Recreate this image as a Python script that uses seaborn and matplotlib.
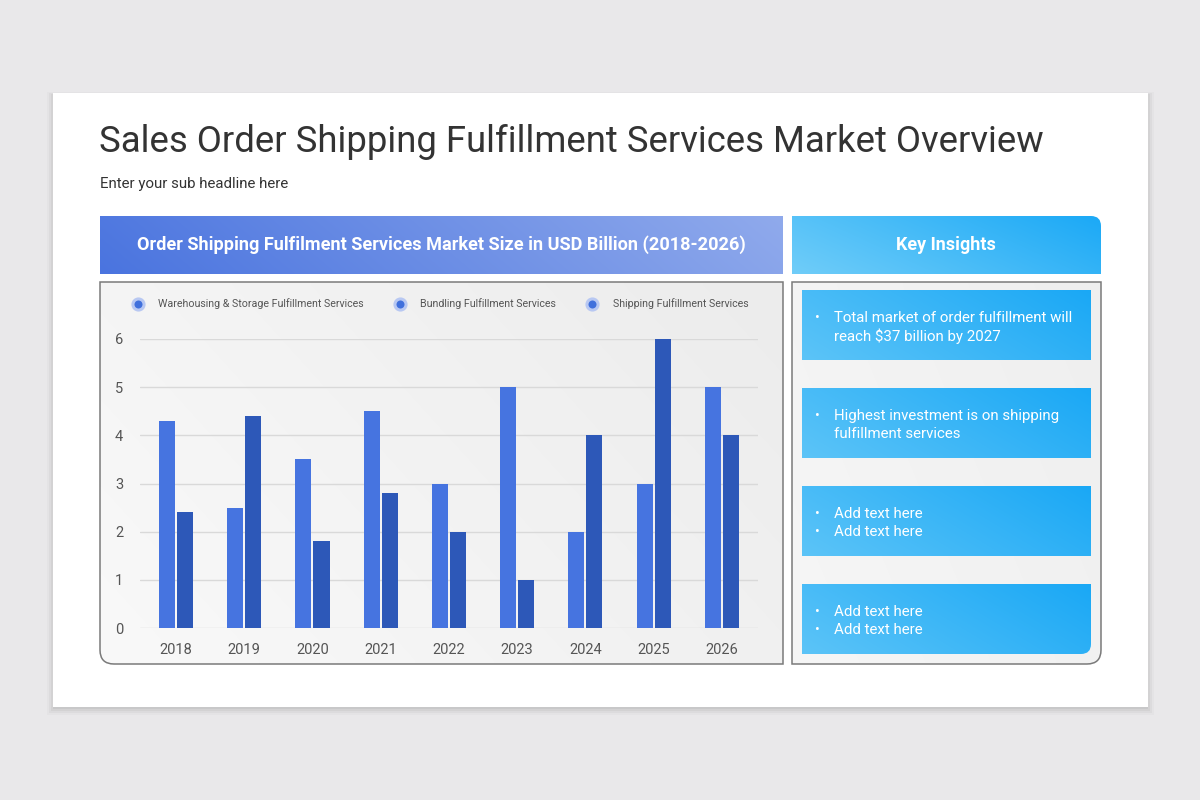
import numpy as np
import pandas as pd
import matplotlib
matplotlib.use('Agg')
import matplotlib.pyplot as plt
import seaborn as sns
from matplotlib.path import Path
from matplotlib.patches import PathPatch, Rectangle
from matplotlib.lines import Line2D
from matplotlib.colors import to_rgb

# data
years = ["2018", "2019", "2020", "2021", "2022", "2023", "2024", "2025", "2026"]
warehousing = [4.3, 2.5, 3.5, 4.5, 3.0, 5.0, 2.0, 3.0, 5.0]
bundling = [2.4, 4.4, 1.8, 2.8, 2.0, 1.0, 4.0, 6.0, 4.0]
series_names = ["Warehousing & Storage Fulfillment Services",
                "Bundling Fulfillment Services",
                "Shipping Fulfillment Services"]
insights = [
    ["Total market of order fulfillment will", "reach $37 billion by 2027"],
    ["Highest investment is on shipping", "fulfillment services"],
    ["Add text here", "Add text here"],
    ["Add text here", "Add text here"],
]
bullet_rows = [[True, False], [True, False], [True, True], [True, True]]

LIGHT_BAR = "#4674e0"
DARK_BAR = "#2d58b8"
FONT = ["Roboto", "DejaVu Sans"]

sns.set_theme(style="white")
plt.rcParams['font.family'] = FONT

W, H = 1200, 800
fig = plt.figure(figsize=(12, 8), dpi=100)
fig.patch.set_facecolor("#e9e8ea")

bg = fig.add_axes([0, 0, 1, 1])
bg.set_xlim(0, W)
bg.set_ylim(H, 0)
bg.axis("off")


def rounded_path(x0, y0, x1, y1, tl=0, tr=0, br=0, bl=0):
    verts = [(x0 + tl, y0), (x1 - tr, y0)]
    codes = [Path.MOVETO, Path.LINETO]
    if tr:
        verts += [(x1, y0), (x1, y0 + tr)]
        codes += [Path.CURVE3, Path.CURVE3]
    verts.append((x1, y1 - br)); codes.append(Path.LINETO)
    if br:
        verts += [(x1, y1), (x1 - br, y1)]
        codes += [Path.CURVE3, Path.CURVE3]
    verts.append((x0 + bl, y1)); codes.append(Path.LINETO)
    if bl:
        verts += [(x0, y1), (x0, y1 - bl)]
        codes += [Path.CURVE3, Path.CURVE3]
    verts.append((x0, y0 + tl)); codes.append(Path.LINETO)
    if tl:
        verts += [(x0, y0), (x0 + tl, y0)]
        codes += [Path.CURVE3, Path.CURVE3]
    verts.append((x0 + tl, y0)); codes.append(Path.CLOSEPOLY)
    return Path(verts, codes)


def gradient_box(x0, y0, x1, y1, c0, c1, tilt=0.25, z=1, **corners):
    path = rounded_path(x0, y0, x1, y1, **corners)
    u = np.linspace(0, 1, 200)[None, :]
    v = np.linspace(0, 1, 60)[:, None]
    t = np.clip((u + tilt * (1 - v)) / (1 + tilt), 0, 1)
    a, b = np.array(to_rgb(c0)), np.array(to_rgb(c1))
    img = a[None, None, :] * (1 - t[..., None]) + b[None, None, :] * t[..., None]
    im = bg.imshow(img, extent=[x0, x1, y1, y0], aspect="auto", zorder=z,
                   interpolation="bilinear")
    patch = PathPatch(path, transform=bg.transData, facecolor="none",
                      edgecolor="none")
    bg.add_patch(patch)
    im.set_clip_path(patch)
    return path


# card with soft shadow
for i, a in enumerate([0.05, 0.04, 0.03, 0.02]):
    bg.add_patch(Rectangle((53 - i * 2, 95 - i * 1), 1095 + i * 4, 614 + i * 3,
                           facecolor="#000000", alpha=a, edgecolor="none", zorder=0))
bg.add_patch(Rectangle((53, 93), 1095, 614, facecolor="#ffffff",
                       edgecolor="none", zorder=0.5))

bg.text(99, 142, "Sales Order Shipping Fulfillment Services Market Overview",
        fontsize=26.3, color="#333333", va="center", ha="left", zorder=5)
bg.text(100, 184, "Enter your sub headline here", fontsize=10.8,
        color="#333333", va="center", ha="left", zorder=5)

# header bars
gradient_box(100, 216, 783, 274, "#4a74df", "#90aaec", tilt=0.1)
bg.text(441, 245, "Order Shipping Fulfilment Services Market Size in USD Billion (2018-2026)",
        fontsize=13.1, fontweight="bold", color="white", ha="center", va="center", zorder=5)
gradient_box(792, 216, 1101, 274, "#70cdf9", "#1ba9f6", tilt=0.4, tr=10)
bg.text(946, 245, "Key Insights", fontsize=13, fontweight="bold",
        color="white", ha="center", va="center", zorder=5)

# panels
gradient_box(100, 282, 783, 664, "#f9f9f9", "#ececec", tilt=0.5, bl=14)
bg.add_patch(PathPatch(rounded_path(100, 282, 783, 664, bl=14), facecolor="none",
                       edgecolor="#7a7a7a", lw=1.1, zorder=3))
gradient_box(792, 282, 1101, 664, "#f6f6f6", "#efefef", tilt=0.5, br=14)
bg.add_patch(PathPatch(rounded_path(792, 282, 1101, 664, br=14), facecolor="none",
                       edgecolor="#7a7a7a", lw=1.1, zorder=3))

# insight boxes
box_tops = [290, 388, 486, 584]
for k, (top, lines, bullets) in enumerate(zip(box_tops, insights, bullet_rows)):
    corners = {"br": 10} if k == len(box_tops) - 1 else {}
    gradient_box(802, top, 1091, top + 70, "#5cc4f8", "#1aa8f5", tilt=0.4, z=2, **corners)
    cy = top + 36
    for j, (line, has_bullet) in enumerate(zip(lines, bullets)):
        y = cy - 8 + j * 18
        if has_bullet:
            bg.text(817, y, "•", fontsize=10, color="white", ha="center",
                    va="center", zorder=5)
        bg.text(834, y, line, fontsize=10.85, color="white", ha="left",
                va="center", zorder=5)

# bar chart
df = pd.DataFrame({
    "year": years * 2,
    "value": warehousing + bundling,
    "series": [series_names[0]] * len(years) + [series_names[1]] * len(years),
})
ax = fig.add_axes([140 / W, 1 - 628 / H, (758 - 140) / W, (628 - 339) / H])
ax.patch.set_alpha(0)
sns.barplot(data=df, x="year", y="value", hue="series", ax=ax,
            palette=[LIGHT_BAR, DARK_BAR], width=0.53, gap=0.11,
            legend=False, saturation=1, linewidth=0, zorder=3)
ax.set_xlim(-0.527, 8.53)
ax.set_ylim(0, 6)
ax.set_yticks(range(0, 7))
ax.yaxis.grid(True, color="#d9d9d9", lw=1)
ax.set_axisbelow(True)
for s in ax.spines.values():
    s.set_visible(False)
ax.tick_params(axis="both", length=0, labelsize=10.5, labelcolor="#555555")
ax.tick_params(axis="y", pad=12)
ax.tick_params(axis="x", pad=11)
ax.set_xlabel("")
ax.set_ylabel("")

# legend
handles = [Line2D([], [], marker="o", ls="none", markersize=8,
                  markerfacecolor="#4070dc", markeredgecolor="#b8c8f2",
                  markeredgewidth=2.2) for _ in series_names]
fig.legend(handles, series_names, loc="center left", ncol=3, frameon=False,
           bbox_to_anchor=(128 / W, 1 - 304 / H), fontsize=7.7,
           labelcolor="#555555", handletextpad=1.4, columnspacing=2.9,
           handlelength=1.0, borderaxespad=0)

fig.savefig("out.png", dpi=100, facecolor=fig.get_facecolor())
